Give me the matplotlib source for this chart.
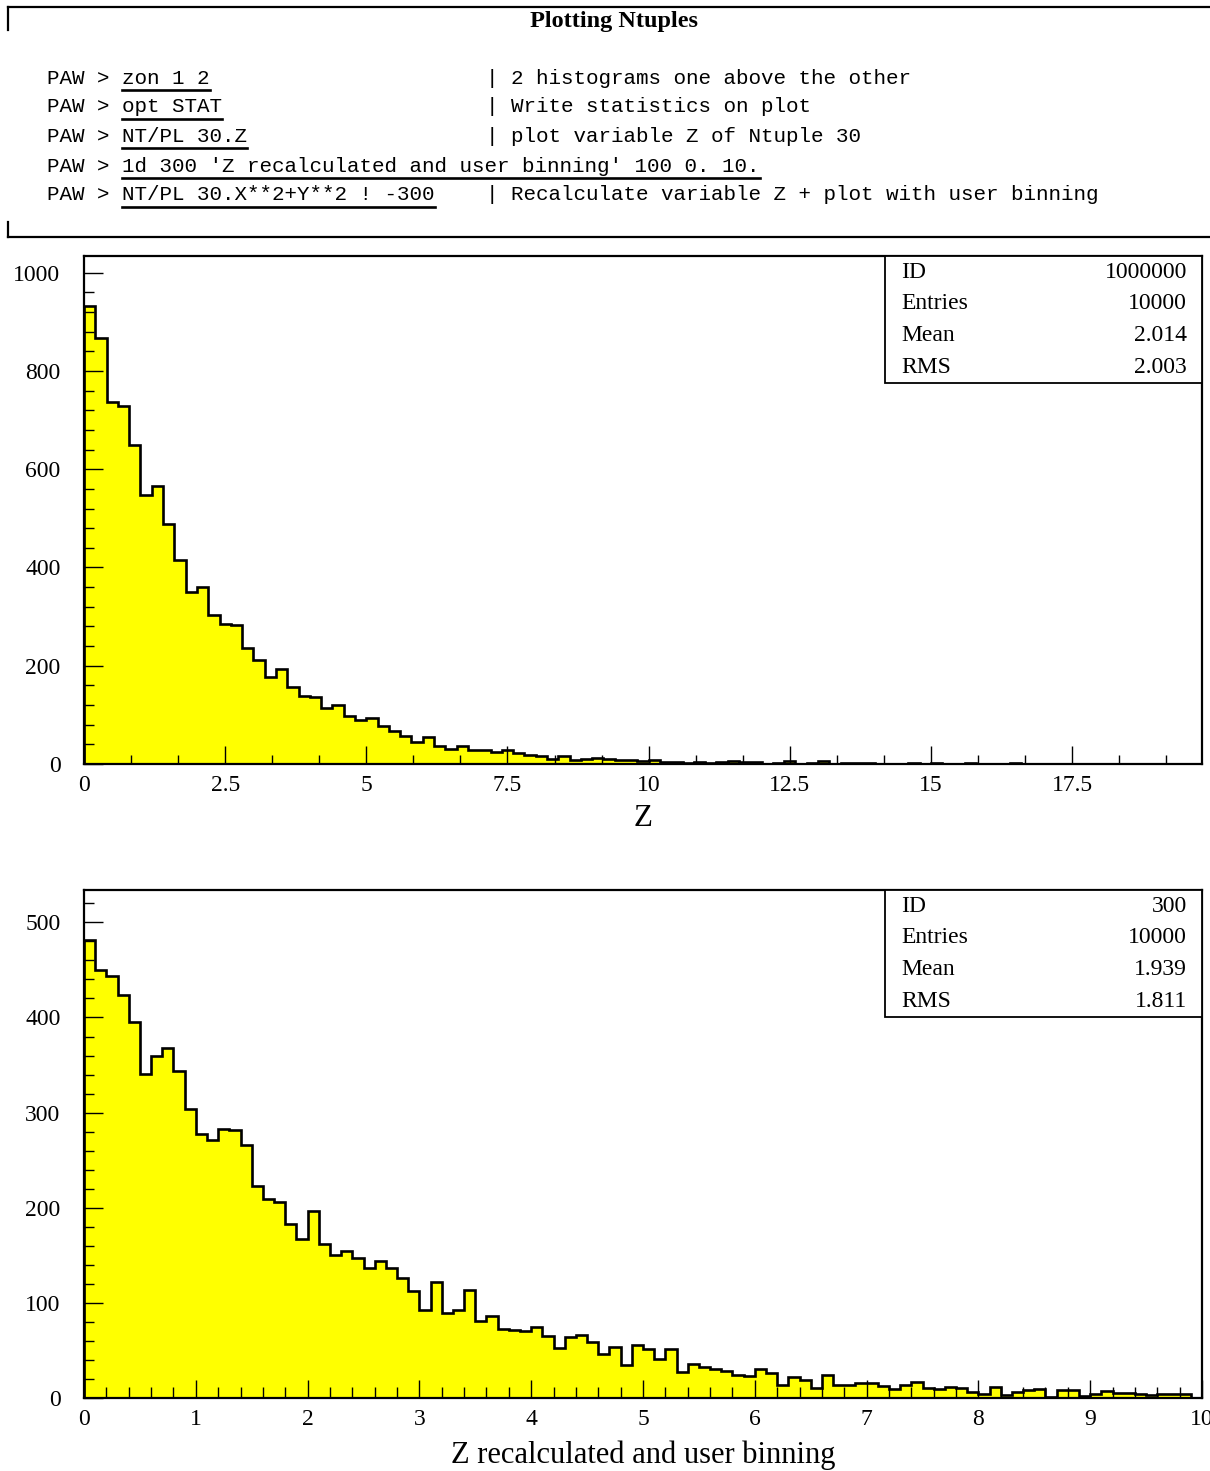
import matplotlib
matplotlib.use("Agg")
import matplotlib.pyplot as plt
import numpy as np
from matplotlib.lines import Line2D
from matplotlib.patches import Rectangle
from matplotlib.ticker import MultipleLocator, FuncFormatter

W, H = 1210, 1471

# Histogram 1000000: variable Z of Ntuple 30 (automatic binning, 0.2 wide)
z_bin_width = 0.2
z_xmax = 19.8
z_counts = [
    932, 868, 737, 728, 650, 548, 566, 489, 416, 350,
    360, 304, 285, 282, 237, 211, 177, 193, 156, 139,
    137, 115, 121, 98, 90, 93, 77, 68, 58, 45,
    54, 37, 30, 37, 28, 28, 25, 28, 23, 18,
    17, 10, 17, 9, 10, 13, 11, 8, 8, 6,
    9, 5, 5, 2, 5, 2, 5, 7, 5, 5,
    1, 3, 6, 1, 3, 7, 1, 2, 2, 2,
    0, 0, 0, 2, 0, 2, 0, 0, 2, 0,
    0, 0, 2, 0, 0, 0, 0, 1, 1, 1,
    0, 0, 0, 0, 0, 0, 0, 0, 0,
]

# Histogram 300: Z recalculated, user binning 100 bins in [0, 10]
z300_range = (0.0, 10.0)
z300_counts = [
    481, 450, 444, 424, 395, 341, 359, 368, 344, 304,
    277, 271, 283, 282, 266, 223, 209, 206, 183, 167,
    197, 162, 150, 154, 147, 137, 144, 137, 126, 112,
    93, 122, 89, 93, 114, 81, 86, 73, 71, 70,
    75, 65, 53, 64, 66, 59, 46, 54, 35, 56,
    52, 41, 52, 27, 36, 33, 31, 28, 24, 23,
    30, 26, 14, 22, 19, 11, 24, 14, 14, 16,
    16, 13, 9, 14, 17, 11, 9, 12, 11, 6,
    4, 12, 3, 6, 8, 9, 1, 8, 8, 2,
    4, 7, 5, 5, 4, 3, 4, 4, 4, 0,
]

stats_top = [("ID", "1000000"), ("Entries", "10000"), ("Mean", "2.014"), ("RMS", "2.003")]
stats_bottom = [("ID", "300"), ("Entries", "10000"), ("Mean", "1.939"), ("RMS", "1.811")]

commands = [
    "zon 1 2",
    "opt STAT",
    "NT/PL 30.Z",
    "1d 300 'Z recalculated and user binning' 100 0. 10.",
    "NT/PL 30.X**2+Y**2 ! -300",
]
comments = [
    "2 histograms one above the other",
    "Write statistics on plot",
    "plot variable Z of Ntuple 30",
    "",
    "Recalculate variable Z + plot with user binning",
]

SERIF = ["Liberation Serif", "DejaVu Serif"]
MONO = ["Liberation Mono", "DejaVu Sans Mono"]
YELLOW = "#ffff00"
LABEL_SIZE = 17


def fx(px):
    return px / W


def fy(py):
    return 1.0 - py / H


fig = plt.figure(figsize=(W / 100, H / 100), dpi=100)

# ---- command panel -------------------------------------------------------
fig.text(fx(614), fy(22), "Plotting Ntuples", family=SERIF, weight="bold",
         size=17.5, ha="center", va="center")
for (x0, x1, y) in [(8, W, 7), (8, W, 237)]:
    fig.add_artist(Line2D([fx(x0), fx(x1)], [fy(y), fy(y)], color="black",
                          lw=1.6, transform=fig.transFigure))
fig.add_artist(Line2D([fx(8), fx(8)], [fy(7), fy(30)], color="black",
                      lw=1.6, transform=fig.transFigure))
fig.add_artist(Line2D([fx(8), fx(8)], [fy(222), fy(237)], color="black",
                      lw=1.6, transform=fig.transFigure))

row_y = [78, 107, 136, 166, 195]
cmd_texts = []
for y, cmd, com in zip(row_y, commands, comments):
    fig.text(fx(47), fy(y), "PAW >", family=MONO, size=15, va="center")
    t = fig.text(fx(122), fy(y), cmd, family=MONO, size=15, va="center")
    cmd_texts.append((t, y))
    if com:
        fig.text(fx(486), fy(y), "|", family=MONO, size=15, va="center")
        fig.text(fx(511), fy(y), com, family=MONO, size=15, va="center")

fig.canvas.draw()
renderer = fig.canvas.get_renderer()
for t, y in cmd_texts:
    bb = t.get_window_extent(renderer)
    fig.add_artist(Line2D([bb.x0 / W, bb.x1 / W], [fy(y + 12), fy(y + 12)],
                          color="black", lw=1.9, transform=fig.transFigure))


# ---- histograms ----------------------------------------------------------
def style_axes(ax, xmax, ymax, xmaj, xmin, ymaj, ymin, xlen, ylen):
    ax.set_xlim(0, xmax)
    ax.set_ylim(0, ymax)
    for s in ax.spines.values():
        s.set_linewidth(1.6)
    ax.xaxis.set_major_locator(MultipleLocator(xmaj))
    ax.xaxis.set_minor_locator(MultipleLocator(xmin))
    ax.yaxis.set_major_locator(MultipleLocator(ymaj))
    ax.yaxis.set_minor_locator(MultipleLocator(ymin))
    fmt = FuncFormatter(lambda v, p: "%g" % v)
    ax.xaxis.set_major_formatter(fmt)
    ax.yaxis.set_major_formatter(fmt)
    ax.tick_params(axis="x", which="major", direction="in", length=xlen[0],
                   width=1.0, pad=8, labelsize=LABEL_SIZE, top=False)
    ax.tick_params(axis="x", which="minor", direction="in", length=xlen[1],
                   width=1.0, top=False)
    ax.tick_params(axis="y", which="major", direction="in", length=ylen[0],
                   width=1.0, pad=17, labelsize=LABEL_SIZE, right=False)
    ax.tick_params(axis="y", which="minor", direction="in", length=ylen[1],
                   width=1.0, right=False)
    for lab in ax.get_xticklabels() + ax.get_yticklabels():
        lab.set_family(SERIF)


def stats_box(top_px, rows):
    x0, x1 = 885, 1202
    y1 = top_px + 127
    fig.add_artist(Rectangle((fx(x0), fy(y1)), fx(x1) - fx(x0), fy(top_px) - fy(y1),
                             transform=fig.transFigure, facecolor="white",
                             edgecolor="black", lw=1.3, zorder=5))
    for i, (name, val) in enumerate(rows):
        y = top_px + 16 + i * 31.8
        fig.text(fx(901), fy(y), name, family=SERIF, size=LABEL_SIZE, va="center", zorder=6)
        fig.text(fx(1187), fy(y), val, family=SERIF, size=LABEL_SIZE, va="center",
                 ha="right", zorder=6)


left = fx(84)
width = fx(1202) - fx(84)

# Top: Z of Ntuple 30
ax1 = fig.add_axes([left, fy(764), width, fy(256) - fy(764)])
z_edges = np.arange(len(z_counts) + 1) * z_bin_width
ax1.stairs(z_counts, z_edges, fill=True, color=YELLOW, baseline=0)
ax1.stairs(z_counts, z_edges, color="black", lw=1.9, baseline=0)
style_axes(ax1, z_xmax, 1034, 2.5, 2.5 / 3, 200, 40, (13, 6.5), (14, 7))
fig.text(fx(643), fy(818), "Z", family=SERIF, size=22.5, ha="center", va="center")
stats_box(256, stats_top)

# Bottom: Z recalculated with user binning
ax2 = fig.add_axes([left, fy(1398), width, fy(890) - fy(1398)])
z300_edges = np.linspace(z300_range[0], z300_range[1], len(z300_counts) + 1)
ax2.stairs(z300_counts, z300_edges, fill=True, color=YELLOW, baseline=0)
ax2.stairs(z300_counts, z300_edges, color="black", lw=1.9, baseline=0)
style_axes(ax2, z300_range[1], 534, 1, 0.2, 100, 20, (13, 8), (14, 7))
fig.text(fx(643), fy(1455), "Z recalculated and user binning", family=SERIF,
         size=22, ha="center", va="center")
stats_box(890, stats_bottom)

fig.savefig("out.png", dpi=100)
